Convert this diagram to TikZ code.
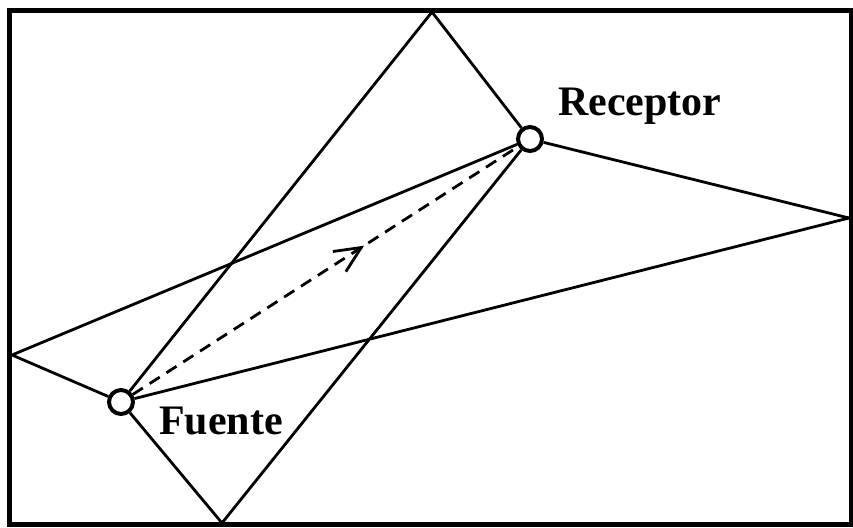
\documentclass[tikz,border=0pt]{standalone}
\usepackage{fontspec}
\setmainfont{Liberation Serif}
\usetikzlibrary{arrows.meta, decorations.markings}

\begin{document}
\begin{tikzpicture}[x=1pt, y=-1pt,
    spot/.style={circle, draw=black, line width=4pt, fill=white, minimum size=24pt, inner sep=0pt},
    lbl/.style={anchor=base west, inner sep=0pt, font=\bfseries\fontsize{42}{50}\selectfont},
    ray/.style={line width=2.8pt, black},
    los/.style={line width=2.8pt, black, dash pattern=on 12pt off 8pt,
        decoration={markings, mark=at position 0.6 with {\arrow[solid]{Straight Barb[length=26pt, width=24pt, line width=2.8pt]}}},
        postaction=decorate}
]
\useasboundingbox (0,0) rectangle (853,527);
\draw[line width=5pt] (9,11) rectangle (851,524);

\coordinate (top) at (432,12);
\coordinate (bot) at (222,523);
\coordinate (rgt) at (849,218);
\coordinate (lft) at (12,355);

\node[spot] (rec) at (530,139) {};
\node[spot] (fue) at (121,402) {};

\draw[ray] (top) -- (rec);
\draw[ray] (rec) -- (rgt);
\draw[ray] (rgt) -- (fue);
\draw[ray] (fue) -- (lft);
\draw[ray] (lft) -- (rec);
\draw[ray] (fue) -- (bot);
\draw[ray] (bot) -- (rec);
\draw[ray] (fue) -- (top);
\draw[los] (fue) -- (rec);

\node[lbl] (recl) at (558,115) {Receptor};
\node[lbl] (fuel) at (159,434) {Fuente};
\end{tikzpicture}
\end{document}
